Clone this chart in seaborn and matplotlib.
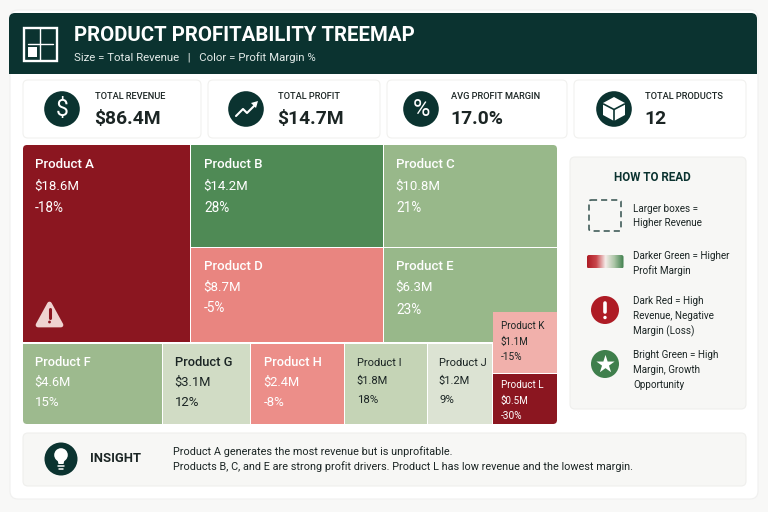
import numpy as np
import matplotlib
matplotlib.use("Agg")
import matplotlib.pyplot as plt
from matplotlib.patches import FancyBboxPatch, Rectangle, Circle, Polygon
import seaborn as sns

# ---- data ----
products = ["Product A", "Product B", "Product C", "Product D", "Product E", "Product F",
            "Product G", "Product H", "Product I", "Product J", "Product K", "Product L"]
revenue = [18.6, 14.2, 10.8, 8.7, 6.3, 4.6, 3.1, 2.4, 1.8, 1.2, 1.1, 0.5]
margin = [-18, 28, 21, -5, 23, 15, 12, -8, 18, 9, -15, -30]
kpi_labels = ["TOTAL REVENUE", "TOTAL PROFIT", "AVG PROFIT MARGIN", "TOTAL PRODUCTS"]
kpi_values = ["$86.4M", "$14.7M", "17.0%", "12"]
legend_texts = [["Larger boxes =", "Higher Revenue"],
                ["Darker Green = Higher", "Profit Margin"],
                ["Dark Red = High", "Revenue, Negative", "Margin (Loss)"],
                ["Bright Green = High", "Margin, Growth", "Opportunity"]]
insight_lines = ["Product A generates the most revenue but is unprofitable.",
                 "Products B, C, and E are strong profit drivers. Product L has low revenue and the lowest margin."]

# ---- layout / style (pixels) ----
cell_left = [23, 191, 384, 191, 384, 23, 163, 251, 345, 428, 493, 493]
cell_right = [190, 383, 557, 383, 557, 162, 250, 344, 427, 492, 557, 557]
cell_top = [145, 145, 145, 248, 248, 344, 344, 344, 344, 344, 312, 374]
cell_bottom = [342, 247, 247, 342, 342, 424, 424, 424, 424, 424, 373, 424]
cell_colors = ["#8B1620", "#4F8A55", "#98B88A", "#E98580", "#98B88A", "#9DBA8E",
               "#D1DCC5", "#EC8E89", "#C5D4B6", "#DCE3D3", "#F1B0AB", "#8B1620"]
# text offsets below each cell's top edge: name, revenue, margin
text_offsets = [(19, 41, 63), (19, 41, 63), (19, 41, 63), (18, 39, 60), (18, 39, 62), (18, 38, 58),
                (18, 38, 58), (18, 38, 58), (19, 37, 56), (19, 37, 56), (14, 30, 45), (11, 27, 42)]
text_pad = [12, 13, 12, 13, 12, 12, 12, 13, 12, 11, 8, 8]
text_size = [9.5, 9.5, 9.5, 9.5, 9.5, 9.3, 9.3, 9.3, 8.0, 8.0, 7.1, 7.1]
DARK = "#0B3330"
INK = "#1B2524"
GREEN = "#3F7F4C"
RED = "#AE1C25"
light_cell = {"Product G", "Product I", "Product J", "Product K"}

sns.set_theme(style="white")
plt.rcParams["font.family"] = ["Roboto", "DejaVu Sans"]

fig = plt.figure(figsize=(7.68, 5.12), dpi=100, facecolor="#F8F8F7")
ax = fig.add_axes([0, 0, 1, 1])
ax.set_xlim(0, 768)
ax.set_ylim(512, 0)
ax.axis("off")


def rbox(x0, y0, x1, y1, r=5, fc="white", ec="none", lw=0.8, z=1, **kw):
    p = FancyBboxPatch((x0 + r, y0 + r), x1 - x0 - 2 * r, y1 - y0 - 2 * r,
                       boxstyle=f"round,pad={r},rounding_size={r}",
                       fc=fc, ec=ec, lw=lw, zorder=z, **kw)
    ax.add_patch(p)
    return p


def label(x, y, s, size, color=INK, weight="normal", ha="left", z=6):
    return ax.text(x, y, s, fontsize=size, color=color, fontweight=weight,
                   ha=ha, va="center", zorder=z)


# page card
rbox(10, 10, 758, 499, r=8, fc="white", ec="#F0F0EF")

# header
head = rbox(9, 13, 757, 90, r=6, fc=DARK, z=2)
head.set_clip_path(Rectangle((0, 0), 768, 73.5, transform=ax.transData))
ax.add_patch(Rectangle((23.5, 27.5), 33, 33, fc="none", ec="white", lw=1.7, zorder=3))
ax.plot([40, 40], [28, 60], color="white", lw=1.0, zorder=3)
ax.plot([28, 53], [43.5, 43.5], color="white", lw=1.0, zorder=3)
ax.add_patch(Rectangle((28, 47), 9, 10, fc="white", ec="none", zorder=3))
label(74, 35.5, "PRODUCT PROFITABILITY TREEMAP", 14.7, "white", "bold")
label(74, 57.5, "Size = Total Revenue   |   Color = Profit Margin %", 8.2, "#E3EBE9")

# KPI cards
kpi_boxes = [(23, 201), (208, 380), (387, 567), (574, 746)]
kpi_icon_x = [62, 246, 421, 614]
kpi_text_x = [95, 278, 451, 645]
for (x0, x1), ix, tx, lab, val in zip(kpi_boxes, kpi_icon_x, kpi_text_x, kpi_labels, kpi_values):
    rbox(x0, 80, x1, 138, r=5, fc="white", ec="#F1F1EF")
    ax.add_patch(Circle((ix, 109), 17.8, fc=DARK, ec="none", zorder=3))
    label(tx, 96.5, lab, 6.7, INK, "medium")
    label(tx - 1, 118.5, val, 13.9, INK, "bold")
label(62, 110, "$", 16.5, "white", "normal", ha="center")
ax.plot([236, 243, 247, 256], [116, 109, 113, 104], color="white", lw=1.5, zorder=6)
ax.add_patch(Polygon([[258, 101], [251, 103], [256, 108]], fc="white", ec="none", zorder=6))
label(421, 110, "%", 17, "white", "normal", ha="center")
ax.add_patch(Polygon([[614, 97], [625, 103], [625, 115], [614, 121], [603, 115], [603, 103]],
                     fc="white", ec="none", zorder=6))
ax.plot([603.5, 614, 624.5], [104, 109.5, 104], color=DARK, lw=1.2, zorder=7)
ax.plot([614, 614], [109.5, 121], color=DARK, lw=1.2, zorder=7)

# treemap, clipped to a rounded outline
clip = FancyBboxPatch((27, 149), 526, 271, boxstyle="round,pad=4,rounding_size=4",
                      fc="none", ec="none", transform=ax.transData)
ax.add_patch(clip)
bars = ax.bar(cell_left, height=np.subtract(cell_bottom, cell_top),
              width=np.subtract(cell_right, cell_left), bottom=cell_top, align="edge",
              color=cell_colors, linewidth=0, zorder=3)
for b in bars:
    b.set_clip_path(clip)

for i, name in enumerate(products):
    x = cell_left[i] + text_pad[i]
    y0 = cell_top[i]
    txt = INK if name in light_cell else "white"
    strings = (name, f"${revenue[i]:.1f}M", f"{margin[i]}%")
    for j, (s, o) in enumerate(zip(strings, text_offsets[i])):
        weight = "medium" if (j == 0 and text_size[i] > 9) else "normal"
        size = text_size[i] * (1.03 if j == 2 else 1.0)
        label(x - (0.6 if j == 1 else 0), y0 + o, s, size, txt, weight)

# warning triangle on Product A
ax.add_patch(Polygon([[49.5, 304], [61, 325], [38, 325]], closed=True, fc="#EFD3D1", ec="#EFD3D1",
                     lw=3.4, joinstyle="round", zorder=5))
ax.plot([49.5, 49.5], [309, 317.5], color="#8B1620", lw=2.2, zorder=6, solid_capstyle="round")
ax.add_patch(Circle((49.5, 322), 1.4, fc="#8B1620", ec="none", zorder=6))

# How to read panel
rbox(570, 157, 746, 409, r=5, fc="#F7F7F5", ec="#EFEFED")
label(652, 177.5, "HOW TO READ", 8.4, DARK, "bold", ha="center")
ax.add_patch(FancyBboxPatch((589, 200), 32, 31, boxstyle="round,pad=0,rounding_size=2",
                            fc="none", ec="#33504D", lw=1.1, ls=(0, (4, 2.6)), zorder=4))
legend_y = [[208.5, 223.5], [256, 271], [301, 316, 331], [355, 370, 385]]
for lines, ys in zip(legend_texts, legend_y):
    for s, y in zip(lines, ys):
        label(633, y, s, 7.15, INK)
grad_cols = sns.blend_palette(["#AE1C25", "#C9474C", "#F6EDEA", "#A9C4A4", "#3F7F4C"], 64)
grad = np.array(grad_cols)[None, :, :]
im = ax.imshow(grad, extent=(587, 623.5, 268.5, 255), aspect="auto", zorder=4)
gclip = FancyBboxPatch((587, 255), 36.5, 13.5, boxstyle="round,pad=0,rounding_size=2",
                       fc="none", ec="none", transform=ax.transData)
ax.add_patch(gclip)
im.set_clip_path(gclip)
ax.set_xlim(0, 768)
ax.set_ylim(512, 0)
ax.add_patch(Circle((605, 310), 14, fc=RED, ec="none", zorder=4))
ax.plot([605, 605], [303, 312], color="white", lw=2.6, zorder=5, solid_capstyle="round")
ax.add_patch(Circle((605, 317.5), 1.7, fc="white", ec="none", zorder=5))
ax.add_patch(Circle((605, 364), 14, fc=GREEN, ec="none", zorder=4))
ax.scatter([605], [364], marker="*", s=190, color="white", linewidths=0, zorder=5)

# insight bar
rbox(23, 433, 746, 486, r=5, fc="#F7F7F5", ec="#EFEFED")
ax.add_patch(Circle((61, 459), 16.5, fc=DARK, ec="none", zorder=3))
ax.add_patch(Circle((61, 455), 6.8, fc="white", ec="none", zorder=4))
ax.add_patch(Polygon([[57, 458], [65, 458], [63.5, 464], [58.5, 464]], fc="white", ec="none", zorder=4))
ax.plot([58, 64], [466, 466], color="white", lw=1.1, zorder=4)
ax.plot([59, 63], [468.5, 468.5], color="white", lw=1.1, zorder=4)
label(90, 459, "INSIGHT", 9.4, INK, "bold")
label(173, 451.5, insight_lines[0], 7.87, INK)
label(173, 466.5, insight_lines[1], 7.87, INK)

fig.savefig("out.png", dpi=100, facecolor=fig.get_facecolor())
